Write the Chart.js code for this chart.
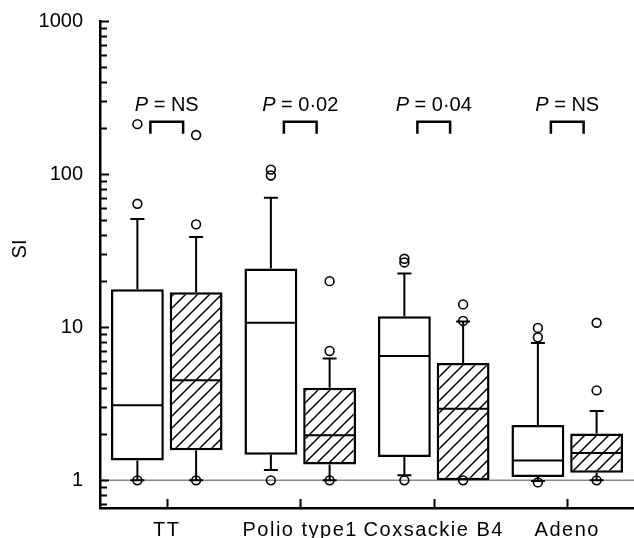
<!DOCTYPE html>
<html>
<head>
<meta charset="utf-8">
<script src="https://cdn.jsdelivr.net/npm/chart.js@4"></script>
<style>
  body { margin: 0; background: #fff; }
  #wrap { width: 634px; height: 538px; }
</style>
</head>
<body>
<div id="wrap"><canvas id="chart"></canvas></div>
<script>
// Categories and tick labels
const categories = ['TT', 'Polio type1', 'Coxsackie B4', 'Adeno'];
const yMajorTicks = [1, 10, 100, 1000];
const pValues = ['NS', '0·02', '0·04', 'NS'];

// Open boxes
const openLow = [1.0, 1.17, 1.08, 0.99];
const openQ1 = [1.35, 1.47, 1.42, 1.05];
const openMedian = [3.1, 10.7, 6.5, 1.35];
const openQ3 = [17.7, 24.2, 11.8, 2.3];
const openHigh = [51, 70, 22.4, 7.9];
const openOutliers = [[1.0, 64, 212], [1.0, 98, 107], [1.0, 26.5, 28], [0.97, 8.6, 9.9]];

// Hatched boxes
const hatchLow = [1.0, 1.0, 1.0, 1.0];
const hatchQ1 = [1.57, 1.27, 1.0, 1.12];
const hatchMedian = [4.5, 1.97, 2.94, 1.51];
const hatchQ3 = [16.9, 4.03, 5.85, 2.02];
const hatchHigh = [38.9, 6.24, 10.9, 2.84];
const hatchOutliers = [[1.0, 47, 180], [1.0, 7.0, 20], [1.0, 11.0, 14.1], [1.0, 3.87, 10.7]];

const FONT = "'Liberation Sans', Arial, Helvetica, sans-serif";

// whisker / median / outlier values per dataset
const boxStats = [
    { low: openLow, median: openMedian, high: openHigh, outliers: openOutliers },
    { low: hatchLow, median: hatchMedian, high: hatchHigh, outliers: hatchOutliers }
];

function makeHatch() {
    const c = document.createElement('canvas');
    c.width = 12;
    c.height = 12;
    const g = c.getContext('2d');
    g.fillStyle = '#fff';
    g.fillRect(0, 0, 12, 12);
    g.strokeStyle = '#000';
    g.lineWidth = 1.5;
    g.beginPath();
    g.moveTo(-6, 6); g.lineTo(6, -6);
    g.moveTo(0, 12); g.lineTo(12, 0);
    g.moveTo(6, 18); g.lineTo(18, 6);
    g.stroke();
    return g.createPattern(c, 'repeat');
}

// minor + major ticks of the log axis
const yTickValues = [0.7, 0.8, 0.9];
yMajorTicks.slice(0, -1).forEach(m => {
    for (let k = 1; k < 10; k++) yTickValues.push(m * k);
});
yTickValues.push(yMajorTicks[yMajorTicks.length - 1]);

const boxPlugin = {
    id: 'boxPlugin',
    afterUpdate(chart) {
        // wider letter spacing on the category labels
        const xs = chart.scales.x;
        if (!xs._spaced) {
            const orig = xs.drawLabels;
            xs.drawLabels = function (area) {
                const ctx = this.ctx;
                ctx.save();
                ctx.letterSpacing = '1.5px';
                orig.call(this, area);
                ctx.restore();
            };
            xs._spaced = true;
        }
    },
    beforeDatasetsDraw(chart) {
        const { ctx, chartArea, scales: { x, y } } = chart;
        ctx.save();
        // reference line at 1
        const y1 = y.getPixelForValue(1);
        ctx.strokeStyle = '#8a8a8a';
        ctx.lineWidth = 1.5;
        ctx.beginPath();
        ctx.moveTo(chartArea.left, y1);
        ctx.lineTo(chartArea.right, y1);
        ctx.stroke();

        // inward tick marks
        ctx.strokeStyle = '#000';
        ctx.lineWidth = 2;
        ctx.beginPath();
        yTickValues.forEach(v => {
            const py = Math.round(y.getPixelForValue(v)) + 0.5;
            const len = yMajorTicks.includes(v) ? 9 : 7;
            ctx.moveTo(chartArea.left, py);
            ctx.lineTo(chartArea.left + len, py);
        });
        categories.forEach((c, i) => {
            const px = Math.round(x.getPixelForValue(i)) + 0.5;
            ctx.moveTo(px, chartArea.bottom);
            ctx.lineTo(px, chartArea.bottom - 9);
        });
        ctx.stroke();
        ctx.restore();
    },
    afterDatasetsDraw(chart) {
        const { ctx, scales: { x, y } } = chart;
        ctx.save();
        ctx.strokeStyle = '#000';

        boxStats.forEach((s, di) => {
            const meta = chart.getDatasetMeta(di);
            const bars = chart.data.datasets[di].data;
            meta.data.forEach((bar, j) => {
                const cx = bar.x;
                const half = bar.width / 2;
                const q1 = bars[j][0], q3 = bars[j][1];
                ctx.lineWidth = 2;
                ctx.beginPath();
                if (s.high[j] > q3) {
                    const ph = y.getPixelForValue(s.high[j]);
                    ctx.moveTo(cx, y.getPixelForValue(q3));
                    ctx.lineTo(cx, ph);
                    ctx.moveTo(cx - 7, ph);
                    ctx.lineTo(cx + 7, ph);
                }
                if (s.low[j] < q1) {
                    const pl = y.getPixelForValue(s.low[j]);
                    ctx.moveTo(cx, y.getPixelForValue(q1));
                    ctx.lineTo(cx, pl);
                    ctx.moveTo(cx - 7, pl);
                    ctx.lineTo(cx + 7, pl);
                }
                ctx.stroke();
                // median
                const pm = y.getPixelForValue(s.median[j]);
                ctx.beginPath();
                ctx.moveTo(cx - half + 1, pm);
                ctx.lineTo(cx + half - 1, pm);
                ctx.stroke();
                // outliers
                ctx.lineWidth = 1.6;
                s.outliers[j].forEach(v => {
                    ctx.beginPath();
                    ctx.arc(cx, y.getPixelForValue(v), 4.4, 0, Math.PI * 2);
                    ctx.stroke();
                });
            });
        });

        // P value brackets
        const m0 = chart.getDatasetMeta(0).data;
        const m1 = chart.getDatasetMeta(1).data;
        const top = y.getPixelForValue(220);
        pValues.forEach((p, j) => {
            const a = m0[j].x + 13, b = m1[j].x - 13;
            ctx.lineWidth = 2.5;
            ctx.beginPath();
            ctx.moveTo(a, top + 12);
            ctx.lineTo(a, top);
            ctx.lineTo(b, top);
            ctx.lineTo(b, top + 12);
            ctx.stroke();

            const mid = (m0[j].x + m1[j].x) / 2;
            ctx.fillStyle = '#000';
            ctx.textBaseline = 'alphabetic';
            ctx.font = 'italic 20px ' + FONT;
            const w1 = ctx.measureText('P').width;
            ctx.font = '20px ' + FONT;
            const rest = ' = ' + p;
            const w2 = ctx.measureText(rest).width;
            const start = mid - (w1 + w2) / 2;
            const base = top - 11;
            ctx.font = 'italic 20px ' + FONT;
            ctx.textAlign = 'left';
            ctx.fillText('P', start, base);
            ctx.font = '20px ' + FONT;
            ctx.fillText(rest, start + w1, base);
        });

        // axis title
        ctx.translate(20, 249);
        ctx.rotate(-Math.PI / 2);
        ctx.font = '20px ' + FONT;
        ctx.textAlign = 'center';
        ctx.textBaseline = 'middle';
        ctx.fillText('SI', 0, 0);
        ctx.restore();
    }
};

function initChart() {
    const ctx = document.getElementById('chart').getContext('2d');
    const openBoxes = openQ1.map((v, i) => [v, openQ3[i]]);
    const hatchBoxes = hatchQ1.map((v, i) => [v, hatchQ3[i]]);

    new Chart(ctx, {
        type: 'bar',
        data: {
            labels: categories,
            datasets: [{
                label: 'open',
                data: openBoxes,
                backgroundColor: '#fff',
                borderColor: '#000',
                borderWidth: 2.5,
                borderSkipped: false
            }, {
                label: 'hatched',
                data: hatchBoxes,
                backgroundColor: makeHatch(),
                borderColor: '#000',
                borderWidth: 2.5,
                borderSkipped: false
            }]
        },
        options: {
            responsive: true,
            maintainAspectRatio: false,
            animation: false,
            categoryPercentage: 0.88,
            barPercentage: 0.9,
            layout: { padding: { top: 21, right: -3, left: 0, bottom: 0 } },
            plugins: {
                legend: { display: false },
                tooltip: { enabled: false }
            },
            scales: {
                x: {
                    offset: true,
                    grid: { display: false, drawTicks: false },
                    border: { display: true, color: '#000', width: 2.5 },
                    ticks: {
                        color: '#000',
                        font: { family: FONT, size: 20 },
                        padding: 10,
                        maxRotation: 0,
                        autoSkip: false
                    },
                    afterFit(scale) { scale.height = 30; }
                },
                y: {
                    type: 'logarithmic',
                    min: 0.66,
                    max: 1000,
                    grid: { display: false, drawTicks: false },
                    border: { display: true, color: '#000', width: 2.5 },
                    afterBuildTicks(scale) {
                        scale.ticks = yTickValues.map(v => ({ value: v }));
                    },
                    ticks: {
                        color: '#000',
                        font: { family: FONT, size: 20 },
                        padding: 17,
                        autoSkip: false,
                        callback: v => yMajorTicks.includes(v) ? String(v) : ''
                    },
                    afterFit(scale) {
                        scale.width = 100;
                        scale.paddingTop = 0;
                        scale.paddingBottom = 0;
                    }
                }
            }
        },
        plugins: [boxPlugin]
    });
}

document.addEventListener('DOMContentLoaded', initChart);
</script>
</body>
</html>
